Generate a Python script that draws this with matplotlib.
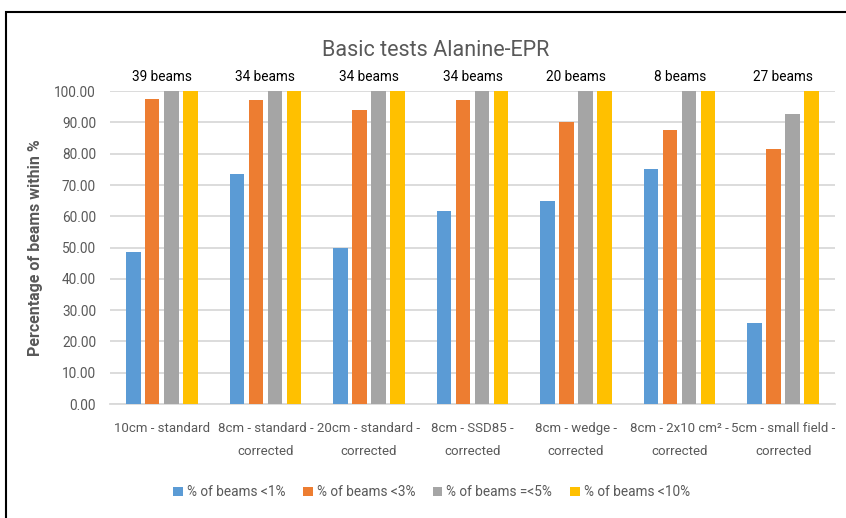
import matplotlib
matplotlib.use("Agg")
import matplotlib.pyplot as plt
import numpy as np
from matplotlib.patches import Rectangle

plt.rcParams['font.family'] = ['Roboto', 'DejaVu Sans']

categories = ["10cm - standard", "8cm - standard -\ncorrected", "20cm - standard -\ncorrected",
              "8cm - SSD85 -\ncorrected", "8cm - wedge -\ncorrected", "8cm - 2x10 cm\u00b2 -\ncorrected",
              "5cm - small field -\ncorrected"]
beams = ["39 beams", "34 beams", "34 beams", "34 beams", "20 beams", "8 beams", "27 beams"]

lt1 = [48.72, 73.53, 50.00, 61.76, 65.00, 75.00, 25.93]
lt3 = [97.44, 97.06, 94.12, 97.06, 90.00, 87.50, 81.48]
le5 = [100, 100, 100, 100, 100, 100, 92.59]
lt10 = [100, 100, 100, 100, 100, 100, 100]

series = [lt1, lt3, le5, lt10]
names = ["% of beams <1%", "% of beams <3%", "% of beams =<5%", "% of beams <10%"]
colors = ["#5B9BD5", "#ED7D31", "#A5A5A5", "#FFC000"]

fig = plt.figure(figsize=(8.46, 5.18), dpi=100)
ax = fig.add_axes([0.130, 0.220, 0.857, 0.604])

x = np.arange(len(categories))
offs = [-0.275, -0.092, 0.092, 0.275]
for s, o, c, n in zip(series, offs, colors, names):
    ax.bar(x + o, s, width=0.14, color=c, label=n, zorder=3)

ax.set_xlim(-0.5, len(categories) - 0.5)
ax.set_ylim(0, 100)
ax.set_yticks(np.arange(0, 101, 10))
ax.set_yticklabels(["%.2f" % v for v in np.arange(0, 101, 10)], fontsize=9.8, color="#595959")
ax.set_xticks(x)
ax.set_xticklabels(categories, fontsize=9.5, color="#595959", linespacing=2.0)
ax.tick_params(axis="y", length=0, pad=10)
ax.tick_params(axis="x", length=0, pad=13)
ax.grid(axis="y", color="#d9d9d9", linewidth=1.3, zorder=0)
for sp in ["top", "right", "left"]:
    ax.spines[sp].set_visible(False)
ax.spines["bottom"].set_color("#d9d9d9")
ax.spines["bottom"].set_linewidth(1.3)

for i, b in enumerate(beams):
    ax.text(x[i], 102.3, b, ha="center", va="bottom", fontsize=9.8, color="black")

ax.set_ylabel("Percentage of beams within %", fontsize=11.5, color="#595959",
              fontweight="bold", labelpad=8)

fig.text(0.515, 0.903, "Basic tests Alanine-EPR", ha="center", va="center",
         fontsize=15.5, color="#595959")

fig.legend(loc="center", bbox_to_anchor=(0.51, 0.05), ncol=4, frameon=False,
           fontsize=9.8, handlelength=0.7, handleheight=0.7, handletextpad=0.3,
           columnspacing=1.3, labelcolor="#595959")

fig.patches.append(Rectangle((6 / 846, -0.05), 1.0, 1 - 12 / 518 + 0.05,
                             transform=fig.transFigure, fill=False,
                             edgecolor="black", linewidth=1.5))

fig.savefig("out.png", dpi=100)
